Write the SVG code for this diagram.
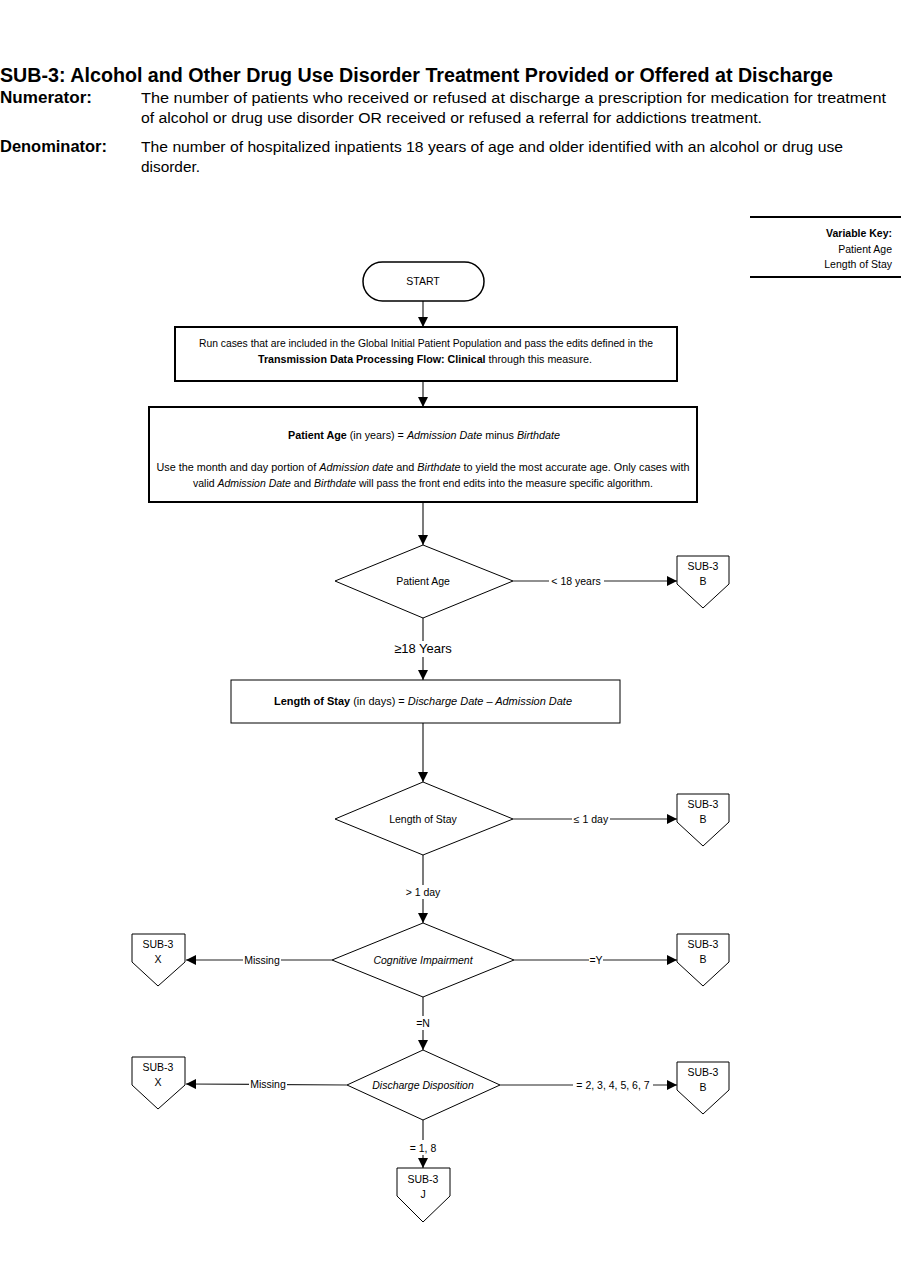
<svg xmlns="http://www.w3.org/2000/svg" width="901" height="1287" viewBox="0 0 901 1287">
<defs>
<marker id="ah" markerWidth="10" markerHeight="10" refX="10" refY="5" orient="auto" markerUnits="userSpaceOnUse">
<path d="M0,0 L10,5 L0,10 Z" fill="#000"/>
</marker>
<style>
text{font-family:"Liberation Sans",Arial,sans-serif;fill:#000}
.hd{font-size:20px;font-weight:bold}
.lb{font-size:16px;font-weight:bold}
.bd{font-size:15.5px}
.t{font-size:10.5px}
.c{text-anchor:middle}
.b{font-weight:bold}
.i{font-style:italic}
.box{fill:#fff;stroke:#000}
.con{fill:none;stroke:#222;stroke-width:1.2}
.arr{marker-end:url(#ah)}
.lbl{font-size:10.5px;text-anchor:middle}
.lblbg{fill:#fff}
</style>
</defs>
<rect width="901" height="1287" fill="#fff"/>

<g id="header">
<text class="hd" x="0" y="82" textLength="833" lengthAdjust="spacingAndGlyphs">SUB-3: Alcohol and Other Drug Use Disorder Treatment Provided or Offered at Discharge</text>
<text class="lb" x="0" y="103" textLength="92" lengthAdjust="spacingAndGlyphs">Numerator:</text>
<text class="bd" x="141" y="103" textLength="745" lengthAdjust="spacingAndGlyphs">The number of patients who received or refused at discharge a prescription for medication for treatment</text>
<text class="bd" x="141" y="123" textLength="621" lengthAdjust="spacingAndGlyphs">of alcohol or drug use disorder OR received or refused a referral for addictions treatment.</text>
<text class="lb" x="0" y="152" textLength="107" lengthAdjust="spacingAndGlyphs">Denominator:</text>
<text class="bd" x="141" y="152" textLength="702" lengthAdjust="spacingAndGlyphs">The number of hospitalized inpatients 18 years of age and older identified with an alcohol or drug use</text>
<text class="bd" x="141" y="172" textLength="59" lengthAdjust="spacingAndGlyphs">disorder.</text>
</g>

<g id="variable-key">
<line x1="750" y1="217" x2="901" y2="217" stroke="#000" stroke-width="2"/>
<text x="892" y="237" class="t b" text-anchor="end">Variable Key:</text>
<text x="892" y="253" class="t" text-anchor="end">Patient Age</text>
<text x="892" y="268" class="t" text-anchor="end">Length of Stay</text>
<line x1="750" y1="277" x2="901" y2="277" stroke="#000" stroke-width="2"/>
</g>

<g id="connectors">
<line class="con arr" x1="423" y1="301" x2="423" y2="327"/>
<line class="con arr" x1="423" y1="381" x2="423" y2="407"/>
<line class="con arr" x1="423" y1="502" x2="423" y2="545"/>
<line class="con arr" x1="513" y1="581" x2="677" y2="581"/>
<rect class="lblbg" x="549" y="574" width="55" height="14"/>
<text class="lbl" x="576" y="585">&lt; 18 years</text>
<line class="con arr" x1="423" y1="618" x2="423" y2="680"/>
<rect class="lblbg" x="391" y="641" width="64" height="16"/>
<text x="423" y="653" class="c" style="font-size:13px">≥18 Years</text>
<line class="con arr" x1="423" y1="723" x2="423" y2="782"/>
<line class="con arr" x1="513" y1="819" x2="677" y2="819"/>
<rect class="lblbg" x="572" y="812" width="38" height="14"/>
<text class="lbl" x="591" y="823">≤ 1 day</text>
<line class="con arr" x1="423" y1="855" x2="423" y2="923"/>
<rect class="lblbg" x="404" y="885" width="38" height="14"/>
<text class="lbl" x="423" y="896">&gt; 1 day</text>
<line class="con arr" x1="332" y1="960" x2="186" y2="960"/>
<rect class="lblbg" x="243" y="953" width="38" height="14"/>
<text class="lbl" x="262" y="964">Missing</text>
<line class="con arr" x1="514" y1="960" x2="677" y2="960"/>
<rect class="lblbg" x="589" y="953" width="14" height="14"/>
<text class="lbl" x="596" y="964">=Y</text>
<line class="con arr" x1="423" y1="997" x2="423" y2="1050"/>
<rect class="lblbg" x="415" y="1016" width="16" height="14"/>
<text class="lbl" x="423" y="1027">=N</text>
<line class="con arr" x1="347" y1="1085" x2="186" y2="1084"/>
<rect class="lblbg" x="249" y="1077" width="38" height="14"/>
<text class="lbl" x="268" y="1088">Missing</text>
<line class="con arr" x1="500" y1="1085" x2="677" y2="1085"/>
<rect class="lblbg" x="573" y="1078" width="80" height="14"/>
<text class="lbl" x="613" y="1089">= 2, 3, 4, 5, 6, 7</text>
<line class="con arr" x1="423" y1="1120" x2="423" y2="1168"/>
<rect class="lblbg" x="406" y="1140" width="34" height="15"/>
<text class="lbl" x="423" y="1152">= 1, 8</text>
</g>

<g id="start">
<rect class="box" x="363" y="262" width="121" height="39" rx="19.5" stroke-width="1.5"/>
<text x="423" y="285" class="t c">START</text>
</g>

<g id="run-cases">
<rect class="box" x="175" y="327" width="502" height="54" stroke-width="2"/>
<text x="426" y="347" class="t c" textLength="454" lengthAdjust="spacingAndGlyphs">Run cases that are included in the Global Initial Patient Population and pass the edits defined in the</text>
<text x="425" y="363" class="t c" textLength="334" lengthAdjust="spacingAndGlyphs"><tspan class="b">Transmission Data Processing Flow: Clinical</tspan> through this measure.</text>
</g>

<g id="patient-age-calc">
<rect class="box" x="149" y="407" width="548" height="95" stroke-width="2"/>
<text x="424" y="439" class="t c" textLength="272" lengthAdjust="spacingAndGlyphs"><tspan class="b">Patient Age</tspan> (in years) = <tspan class="i">Admission Date</tspan> minus <tspan class="i">Birthdate</tspan></text>
<text x="423" y="471" class="t c" textLength="533" lengthAdjust="spacingAndGlyphs">Use the month and day portion of <tspan class="i">Admission date</tspan> and <tspan class="i">Birthdate</tspan> to yield the most accurate age. Only cases with</text>
<text x="423" y="487" class="t c" textLength="460" lengthAdjust="spacingAndGlyphs">valid <tspan class="i">Admission Date</tspan> and <tspan class="i">Birthdate</tspan> will pass the front end edits into the measure specific algorithm.</text>
</g>

<g id="patient-age-decision">
<polygon class="box" points="423,545 513,581 423,618 335,581" stroke-width="1"/>
<text x="423" y="585" class="t c">Patient Age</text>
</g>

<g id="sub3-b-1">
<polygon class="box" points="677,556 729,556 729,584 703,608 677,584" stroke-width="1"/>
<text x="703" y="570" class="t c">SUB-3</text>
<text x="703" y="585" class="t c">B</text>
</g>

<g id="los-calc">
<rect class="box" x="231" y="680" width="389" height="43" stroke-width="1"/>
<text x="423" y="705" class="t c" textLength="298" lengthAdjust="spacingAndGlyphs"><tspan class="b">Length of Stay</tspan> (in days)  = <tspan class="i">Discharge Date – Admission Date</tspan></text>
</g>

<g id="los-decision">
<polygon class="box" points="423,782 513,819 423,855 335,819" stroke-width="1"/>
<text x="423" y="823" class="t c">Length of Stay</text>
</g>

<g id="sub3-b-2">
<polygon class="box" points="677,794 729,794 729,822 703,846 677,822" stroke-width="1"/>
<text x="703" y="808" class="t c">SUB-3</text>
<text x="703" y="823" class="t c">B</text>
</g>

<g id="cognitive-decision">
<polygon class="box" points="423,923 514,960 423,997 332,960" stroke-width="1"/>
<text x="423" y="964" class="t c i">Cognitive Impairment</text>
</g>

<g id="sub3-x-1">
<polygon class="box" points="132,934 185,934 185,962 158,986 132,962" stroke-width="1"/>
<text x="158" y="948" class="t c">SUB-3</text>
<text x="158" y="963" class="t c">X</text>
</g>

<g id="sub3-b-3">
<polygon class="box" points="677,934 729,934 729,962 703,986 677,962" stroke-width="1"/>
<text x="703" y="948" class="t c">SUB-3</text>
<text x="703" y="963" class="t c">B</text>
</g>

<g id="discharge-decision">
<polygon class="box" points="423,1050 500,1085 423,1120 347,1085" stroke-width="1"/>
<text x="423" y="1089" class="t c i">Discharge Disposition</text>
</g>

<g id="sub3-x-2">
<polygon class="box" points="132,1057 185,1057 185,1085 158,1109 132,1085" stroke-width="1"/>
<text x="158" y="1071" class="t c">SUB-3</text>
<text x="158" y="1086" class="t c">X</text>
</g>

<g id="sub3-b-4">
<polygon class="box" points="677,1062 729,1062 729,1090 703,1114 677,1090" stroke-width="1"/>
<text x="703" y="1076" class="t c">SUB-3</text>
<text x="703" y="1091" class="t c">B</text>
</g>

<g id="sub3-j">
<polygon class="box" points="397,1168 450,1168 450,1196 423,1222 397,1196" stroke-width="1"/>
<text x="423" y="1183" class="t c">SUB-3</text>
<text x="423" y="1198" class="t c">J</text>
</g>
</svg>
